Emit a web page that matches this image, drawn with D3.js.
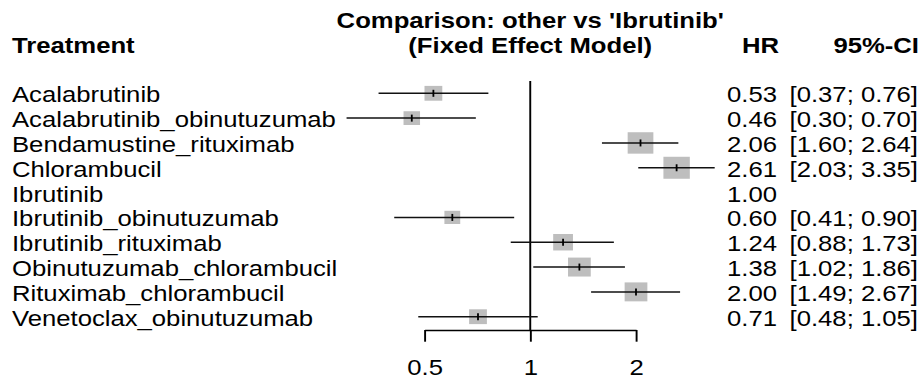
<!DOCTYPE html>
<html>
<head>
<meta charset="utf-8">
<script src="https://cdn.jsdelivr.net/npm/d3@7"></script>
<style>
  body { margin: 0; background: #fff; }
  text { font-family: "Liberation Sans", Arial, sans-serif; fill: #000; }
</style>
</head>
<body>
<div class="chart"></div>
<script>
// Forest plot: other vs 'Ibrutinib' (fixed effect)
const TREATMENTS = [
    'Acalabrutinib', 'Acalabrutinib_obinutuzumab', 'Bendamustine_rituximab',
    'Chlorambucil', 'Ibrutinib', 'Ibrutinib_obinutuzumab', 'Ibrutinib_rituximab',
    'Obinutuzumab_chlorambucil', 'Rituximab_chlorambucil', 'Venetoclax_obinutuzumab'
]
const HR =    [0.53, 0.46, 2.06, 2.61, 1.00, 0.60, 1.24, 1.38, 2.00, 0.71]
const LOWER = [0.37, 0.30, 1.60, 2.03, null, 0.41, 0.88, 1.02, 1.49, 0.48]
const UPPER = [0.76, 0.70, 2.64, 3.35, null, 0.90, 1.73, 1.86, 2.67, 1.05]
// relative weight of each comparison (drives box area)
const WEIGHTS = [324, 279, 676, 713, 0, 256, 400, 529, 529, 324]
const TICKS = [0.5, 1, 2]

var width = 923
var height = 378
var sx = 1.2 // the original picture is stretched horizontally
var fs = 21.4

var data = TREATMENTS.map((t, i) => ({
    name: t, hr: HR[i], lo: LOWER[i], hi: UPPER[i], w: WEIGHTS[i]
}))

var svg = d3.select('.chart').append('svg')
    .attr('width', width)
    .attr('height', height)

var g = svg.append('g').attr('transform', `scale(${sx}, 1)`)

// real pixel -> inner unit
var ix = px => px / sx

var xScale = d3.scaleLog().base(2)
    .domain([0.5, 2])
    .range([ix(424.5), ix(636)])

var yScale = d3.scalePoint()
    .domain(TREATMENTS)
    .range([93.3, 316.7])

var boxScale = d3.scaleSqrt()
    .domain([0, d3.max(WEIGHTS)])
    .range([0, 22])

var fmt = d3.format('.2f')

// Header
g.append('text')
    .attr('x', ix(12)).attr('y', 53)
    .attr('font-weight', 'bold').attr('font-size', fs)
    .text('Treatment')

g.append('text')
    .attr('x', xScale(1)).attr('y', 28)
    .attr('text-anchor', 'middle')
    .attr('font-weight', 'bold').attr('font-size', fs)
    .text("Comparison: other vs 'Ibrutinib'")

g.append('text')
    .attr('x', xScale(1)).attr('y', 53)
    .attr('text-anchor', 'middle')
    .attr('font-weight', 'bold').attr('font-size', fs)
    .text('(Fixed Effect Model)')

g.append('text')
    .attr('x', ix(779)).attr('y', 53)
    .attr('text-anchor', 'end')
    .attr('font-weight', 'bold').attr('font-size', fs)
    .text('HR')

g.append('text')
    .attr('x', ix(919)).attr('y', 53)
    .attr('text-anchor', 'end')
    .attr('font-weight', 'bold').attr('font-size', fs)
    .text('95%-CI')

// Reference line at HR = 1
g.append('line')
    .attr('x1', xScale(1)).attr('x2', xScale(1))
    .attr('y1', 81).attr('y2', 330)
    .attr('stroke', '#000')
    .attr('stroke-width', 1.6)

// Axis
var axis = g.append('g')
    .attr('transform', 'translate(0, 330)')
    .call(d3.axisBottom(xScale)
        .tickValues(TICKS)
        .tickFormat(d => d3.format('')(d))
        .tickSize(11.7)
        .tickSizeOuter(0)
        .tickPadding(18))

axis.select('.domain').attr('stroke', '#000').attr('stroke-width', 1.5)
axis.selectAll('.tick line').attr('stroke', '#000').attr('stroke-width', 1.6)
axis.selectAll('.tick text')
    .attr('font-size', fs)
    .attr('font-family', '"Liberation Sans", Arial, sans-serif')
    .attr('fill', '#000')

// Rows
var rows = g.selectAll('.row')
    .data(data)
    .enter()
    .append('g')
    .classed('row', true)
    .attr('transform', d => `translate(0, ${yScale(d.name)})`)

rows.append('text')
    .attr('x', ix(12)).attr('y', 9)
    .attr('font-size', fs)
    .text(d => d.name)

rows.append('text')
    .attr('x', ix(777)).attr('y', 9)
    .attr('text-anchor', 'end')
    .attr('font-size', fs)
    .text(d => fmt(d.hr))

rows.filter(d => d.lo != null).append('text')
    .attr('x', ix(918)).attr('y', 9)
    .attr('text-anchor', 'end')
    .attr('font-size', fs)
    .text(d => `[${fmt(d.lo)}; ${fmt(d.hi)}]`)

var est = rows.filter(d => d.lo != null)

est.append('rect')
    .attr('x', d => xScale(d.hr) - boxScale(d.w) / 2)
    .attr('y', d => -boxScale(d.w) / 2)
    .attr('width', d => boxScale(d.w))
    .attr('height', d => boxScale(d.w))
    .attr('fill', '#bebebe')

est.append('line')
    .attr('x1', d => xScale(d.lo))
    .attr('x2', d => xScale(d.hi))
    .attr('y1', 0).attr('y2', 0)
    .attr('stroke', '#111')
    .attr('stroke-width', 1.5)

est.append('line')
    .attr('x1', d => xScale(d.hr))
    .attr('x2', d => xScale(d.hr))
    .attr('y1', -3.5).attr('y2', 3.5)
    .attr('stroke', '#000')
    .attr('stroke-width', 1.5)
</script>
</body>
</html>
